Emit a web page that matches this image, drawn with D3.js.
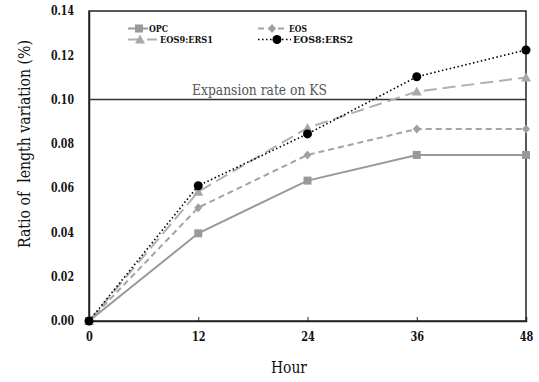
<!DOCTYPE html>
<html>
<head>
<meta charset="utf-8">
<script src="https://cdn.jsdelivr.net/npm/d3@7"></script>
<style>
  html, body { margin: 0; padding: 0; background: #fff; }
  svg { display: block; }
  svg text { font-family: 'DejaVu Serif', serif; }
</style>
</head>
<body>
<div id="chart"></div>
<script>
// data
const hours = [0, 12, 24, 36, 48];
const yTicks = [0, 0.02, 0.04, 0.06, 0.08, 0.10, 0.12, 0.14];
const opc = [0, 0.0396, 0.0634, 0.075, 0.075];
const eos = [0, 0.0512, 0.075, 0.0867, 0.0867];
const eos9ers1 = [0, 0.0584, 0.0872, 0.1036, 0.110];
const eos8ers2 = [0, 0.0611, 0.0845, 0.1103, 0.1224];
const ksLimit = 0.10;

const series = [
  { name: 'OPC', values: opc, color: '#999', fill: '#999', dash: null, width: 2, marker: 'square' },
  { name: 'EOS', values: eos, color: '#a3a3a3', fill: '#a0a0a0', dash: '6,4', width: 2, marker: 'diamond' },
  { name: 'EOS9:ERS1', values: eos9ers1, color: '#b0b0b0', fill: '#a8a8a8', dash: '13,6', width: 2, marker: 'triangle' },
  { name: 'EOS8:ERS2', values: eos8ers2, color: '#000', fill: '#000', dash: '1.5,2.5', width: 1.6, marker: 'circle' }
];

const W = 539, H = 382;
const m = { top: 11, right: 13, bottom: 61, left: 89 };
const iw = W - m.left - m.right, ih = H - m.top - m.bottom;

const svg = d3.select('#chart').append('svg')
  .attr('width', W).attr('height', H);

const x = d3.scaleLinear().domain([0, 48]).range([m.left, m.left + iw]);
const y = d3.scaleLinear().domain([0, 0.14]).range([m.top + ih, m.top]);

// frame
svg.append('rect')
  .attr('x', m.left).attr('y', m.top)
  .attr('width', iw).attr('height', ih)
  .attr('fill', 'none').attr('stroke', '#222').attr('stroke-width', 1.5);

// axes
const xAxis = svg.append('g')
  .attr('transform', `translate(0,${m.top + ih})`)
  .call(d3.axisBottom(x).tickValues(hours).tickSize(-4).tickPadding(11).tickFormat(d3.format('d')));
xAxis.attr('font-family', null);
xAxis.select('.domain').attr('stroke', '#222').attr('stroke-width', 1.5);
xAxis.selectAll('.tick line').attr('stroke', '#222');
xAxis.selectAll('text')
  .attr('font-size', 12).attr('font-weight', 'bold').attr('fill', '#111')
  .attr('textLength', d => String(d).length * 6.8)
  .attr('lengthAdjust', 'spacingAndGlyphs');

const yAxis = svg.append('g')
  .attr('transform', `translate(${m.left},0)`)
  .call(d3.axisLeft(y).tickValues(yTicks).tickSize(0).tickPadding(15).tickFormat(d3.format('.2f')));
yAxis.attr('font-family', null);
yAxis.select('.domain').attr('stroke', '#222').attr('stroke-width', 1.5);
yAxis.selectAll('text')
  .attr('font-size', 12).attr('font-weight', 'bold').attr('fill', '#111')
  .attr('textLength', 23).attr('lengthAdjust', 'spacingAndGlyphs');

// KS limit line
svg.append('line')
  .attr('x1', x(0)).attr('x2', x(48))
  .attr('y1', y(ksLimit)).attr('y2', y(ksLimit))
  .attr('stroke', '#333').attr('stroke-width', 1.6);
svg.append('text')
  .attr('x', 192).attr('y', y(ksLimit) - 5)
  .attr('font-size', 14.5).attr('fill', '#555')
  .attr('textLength', 135).attr('lengthAdjust', 'spacingAndGlyphs')
  .text('Expansion rate on KS');

// marker helper
function drawMarker(g, type, cx, cy, color) {
  if (type === 'square') {
    g.append('rect').attr('x', cx - 4).attr('y', cy - 4).attr('width', 8).attr('height', 8).attr('fill', color);
  } else if (type === 'diamond') {
    g.append('path').attr('d', `M${cx},${cy - 4.5}L${cx + 4},${cy}L${cx},${cy + 4.5}L${cx - 4},${cy}Z`).attr('fill', color);
  } else if (type === 'triangle') {
    g.append('path').attr('d', `M${cx},${cy - 5}L${cx + 5},${cy + 4}L${cx - 5},${cy + 4}Z`).attr('fill', color);
  } else {
    g.append('circle').attr('cx', cx).attr('cy', cy).attr('r', 4.5).attr('fill', color);
  }
}

const line = d3.line().x((d, i) => x(hours[i])).y(d => y(d));

series.forEach(s => {
  const g = svg.append('g');
  g.append('path')
    .attr('d', line(s.values))
    .attr('fill', 'none')
    .attr('stroke', s.color)
    .attr('stroke-width', s.width)
    .attr('stroke-dasharray', s.dash);
  s.values.forEach((v, i) => drawMarker(g, s.marker, x(hours[i]), y(v), s.fill));
});

// legend: [line start, line end, marker x, text x, y, text width]
const legendPos = [
  [128, 148, 139, 149, 28.5, 19],
  [258, 286, 272, 289, 28.5, 18],
  [128, 157, 140, 160, 39.5, 53],
  [258, 291, 277, 293, 39.5, 60]
];
series.forEach((s, i) => {
  const [x1, x2, mx, tx, ly, tw] = legendPos[i];
  const g = svg.append('g');
  g.append('line')
    .attr('x1', x1).attr('x2', x2).attr('y1', ly).attr('y2', ly)
    .attr('stroke', s.color).attr('stroke-width', s.width)
    .attr('stroke-dasharray', s.dash);
  drawMarker(g, s.marker, mx, ly, s.fill);
  g.append('text')
    .attr('x', tx).attr('y', ly + 3.5)
    .attr('font-size', 10).attr('font-weight', 'bold').attr('fill', '#111')
    .attr('textLength', tw).attr('lengthAdjust', 'spacingAndGlyphs')
    .text(s.name);
});

// axis titles
svg.append('text')
  .attr('transform', `translate(30,248) rotate(-90)`)
  .attr('font-size', 16).attr('fill', '#111')
  .attr('textLength', 208).attr('lengthAdjust', 'spacingAndGlyphs')
  .style('white-space', 'pre')
  .text('Ratio of  length variation (%)');
svg.append('text')
  .attr('x', 271).attr('y', 373)
  .attr('font-size', 17).attr('fill', '#111')
  .attr('textLength', 36).attr('lengthAdjust', 'spacingAndGlyphs')
  .text('Hour');
</script>
</body>
</html>
